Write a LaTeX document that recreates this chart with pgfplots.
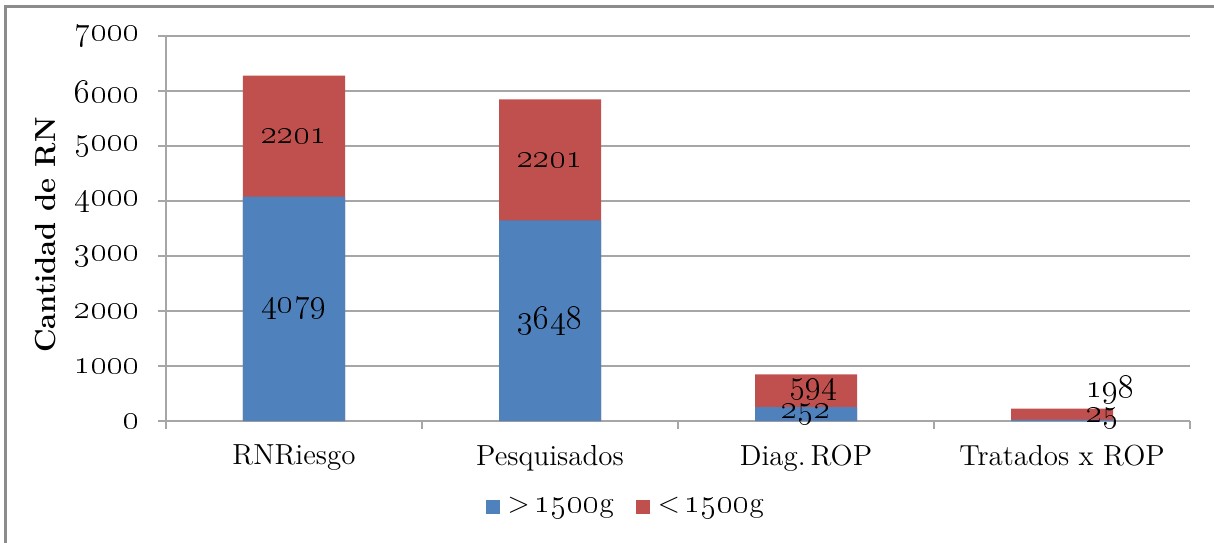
\documentclass[border=0pt]{standalone}
\usepackage{pgfplots}
\pgfplotsset{compat=1.18}
\definecolor{barblue}{HTML}{4F81BD}
\definecolor{barred}{HTML}{C0504D}
\definecolor{gridgray}{HTML}{A6A6A6}
\definecolor{framegray}{HTML}{8C8C8C}
\newcommand{\osn}[1]{{\fontsize{17}{17}\selectfont\oldstylenums{#1}}}
\begin{document}
\fontsize{14.5}{17}\selectfont
\begin{tikzpicture}
\useasboundingbox (-83pt,-60.5pt) rectangle (524pt,210.5pt);
\draw[color=framegray, line width=1.5pt] (-80pt,-80pt) -- (-80pt,207pt) -- (560pt,207pt);
\begin{axis}[
  scale only axis, width=512pt, height=192.5pt,
  xmin=-0.5, xmax=3.5, ymin=0, ymax=7000,
  axis x line*=bottom, axis y line*=left,
  axis line style={gridgray, line width=0.8pt, -},
  xtick={0,1,2,3},
  xticklabels={RNRiesgo, Pesquisados, Diag.\,ROP, Tratados x ROP},
  major x tick style={draw=none},
  minor xtick={-0.5,0.5,1.5,2.5,3.5},
  minor x tick style={gridgray, line width=0.8pt},
  tick align=outside,
  ytick={0,1000,2000,3000,4000,5000,6000,7000},
  yticklabels={\osn{0},\osn{1000},\osn{2000},\osn{3000},\osn{4000},\osn{5000},\osn{6000},\osn{7000}},
  y tick style={gridgray, line width=0.8pt},
  major tick length=4pt, minor tick length=4pt,
  ymajorgrids, grid style={gridgray, line width=0.8pt},
  yticklabel style={xshift=-4pt},
  xticklabel style={yshift=-3pt},
  ylabel={\bfseries Cantidad de RN},
  every axis y label/.style={at={(axis description cs:-0.118,0.483)}, rotate=90, anchor=center},
  legend style={at={(0.45,-0.223)}, anchor=center, draw=none, fill=none,
    legend columns=2, /tikz/every even column/.append style={column sep=9pt}},
  legend image code/.code={\fill[#1, draw=none] (0pt,-3.5pt) rectangle (7pt,3.5pt); \path[draw=none, fill=none] (0pt,0pt) -- (9pt,0pt);},
]
% totals (blue + red), drawn first
\addplot[ybar, bar width=51pt, bar shift=0pt, fill=barred, draw=none, forget plot]
  coordinates {(0,6280) (1,5849) (2,846) (3,223)};
% > 1500g
\addplot[ybar, bar width=51pt, bar shift=0pt, fill=barblue, draw=none, forget plot]
  coordinates {(0,4079) (1,3648) (2,252) (3,25)};
% data labels
\addplot[draw=none, forget plot, nodes near coords={\osn{\pgfplotspointmeta}},
  point meta=explicit symbolic,
  every node near coord/.append style={anchor=center, text=black}]
  coordinates {(0,2039.5)[4079] (1,1824)[3648] (2,115)[252] (3.16,55)[25]
               (0,5179.5)[2201] (1,4748.5)[2201] (2.03,570)[594] (3.19,560)[198]};
\addlegendimage{fill=barblue}
\addlegendentry{\textgreater\,\osn{1500}g}
\addlegendimage{fill=barred}
\addlegendentry{\textless\,\osn{1500}g}
\end{axis}
\end{tikzpicture}
\end{document}
